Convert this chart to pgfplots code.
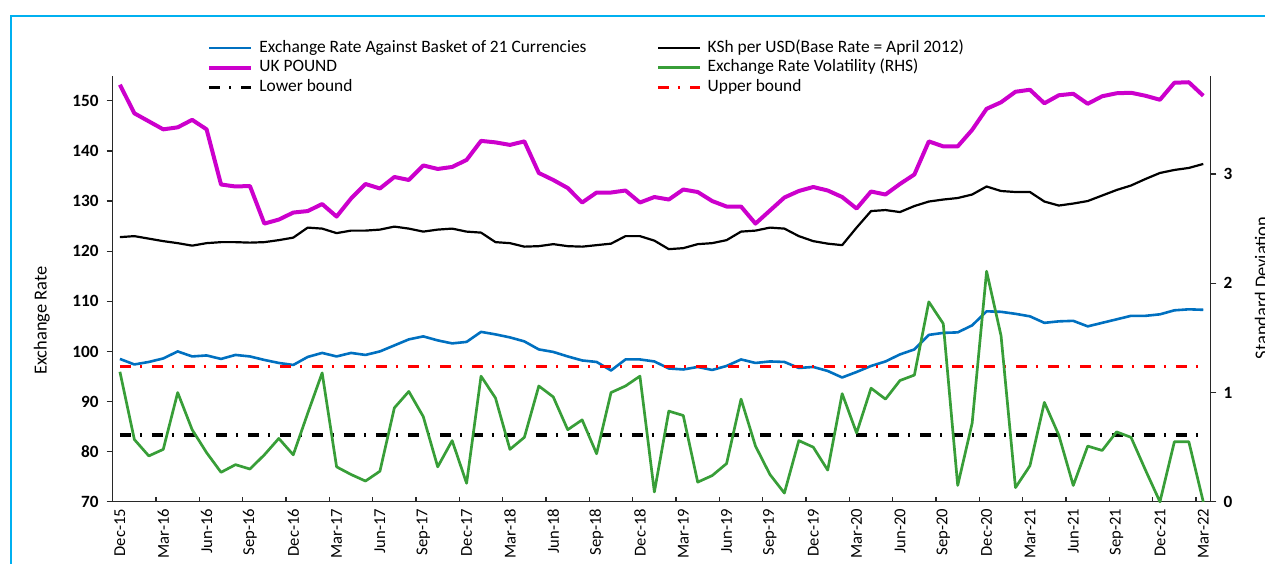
\documentclass[border=0pt]{standalone}
\usepackage{fontspec}
\setmainfont{Carlito}
\usepackage{pgfplots}
\pgfplotsset{compat=1.18}
\usepackage{pgfplotstable}
\definecolor{serblue}{RGB}{0,112,192}
\definecolor{sermag}{RGB}{204,0,204}
\definecolor{sergreen}{RGB}{56,158,56}
\definecolor{bordercyan}{RGB}{0,176,240}
\definecolor{axisgray}{RGB}{40,40,40}

\pgfplotstableread{
i blue black pound vol
0 98.5 122.8 153.2 1.19
1 97.4 123.0 147.5 0.57
2 97.9 122.5 145.9 0.42
3 98.6 122.0 144.3 0.48
4 100.0 121.6 144.7 1.00
5 99.0 121.1 146.2 0.66
6 99.2 121.6 144.3 0.45
7 98.5 121.8 133.3 0.27
8 99.3 121.8 132.9 0.34
9 99.0 121.7 133.0 0.30
10 98.3 121.8 125.5 0.43
11 97.7 122.2 126.3 0.58
12 97.3 122.7 127.7 0.43
13 98.9 124.7 128.0 0.81
14 99.7 124.5 129.4 1.18
15 99.0 123.6 126.9 0.32
16 99.7 124.1 130.5 0.25
17 99.3 124.1 133.4 0.19
18 100.0 124.3 132.5 0.28
19 101.2 124.9 134.8 0.86
20 102.4 124.5 134.2 1.01
21 103.0 123.9 137.1 0.78
22 102.2 124.3 136.4 0.32
23 101.6 124.5 136.8 0.56
24 101.9 123.9 138.2 0.17
25 103.9 123.7 142.0 1.15
26 103.4 121.8 141.7 0.95
27 102.8 121.6 141.2 0.48
28 102.0 120.9 141.9 0.59
29 100.4 121.0 135.6 1.06
30 99.9 121.4 134.2 0.96
31 99.0 121.0 132.6 0.66
32 98.2 120.9 129.7 0.75
33 97.9 121.2 131.7 0.44
34 96.2 121.5 131.7 1.00
35 98.4 123.0 132.1 1.06
36 98.4 123.0 129.7 1.15
37 98.0 122.1 130.8 0.09
38 96.6 120.4 130.3 0.83
39 96.4 120.6 132.3 0.79
40 96.9 121.4 131.8 0.18
41 96.3 121.6 130.0 0.24
42 97.1 122.2 128.9 0.35
43 98.4 123.9 128.9 0.94
44 97.7 124.1 125.5 0.51
45 98.0 124.7 128.1 0.25
46 97.9 124.5 130.7 0.08
47 96.7 123.0 132.0 0.56
48 96.9 122.0 132.8 0.50
49 96.1 121.5 132.1 0.29
50 94.8 121.2 130.8 0.99
51 95.9 124.7 128.5 0.63
52 97.1 128.0 131.9 1.04
53 98.0 128.2 131.3 0.94
54 99.4 127.8 133.4 1.11
55 100.4 129.0 135.3 1.16
56 103.3 129.9 141.9 1.83
57 103.7 130.3 140.9 1.63
58 103.8 130.6 140.9 0.15
59 105.2 131.3 144.2 0.72
60 108.0 132.9 148.4 2.11
61 107.9 132.0 149.7 1.52
62 107.5 131.8 151.8 0.13
63 107.0 131.8 152.2 0.33
64 105.7 129.9 149.5 0.91
65 106.0 129.1 151.1 0.61
66 106.1 129.5 151.4 0.15
67 105.0 130.0 149.4 0.51
68 105.7 131.1 150.9 0.47
69 106.4 132.2 151.5 0.64
70 107.1 133.1 151.6 0.59
71 107.1 134.4 151.0 0.29
72 107.4 135.6 150.2 0.00
73 108.2 136.2 153.6 0.55
74 108.4 136.6 153.7 0.55
75 108.3 137.4 151.0 0.00
}\data

\begin{document}
\begin{tikzpicture}
\useasboundingbox (0,0) rectangle (632.5pt,-281.5pt);
\clip (0,0) rectangle (632.5pt,-281.5pt);
\draw[bordercyan, line width=1.4pt] (5.5pt,-300pt) -- (5.5pt,-8pt) -- (700pt,-8pt);

\begin{axis}[
  at={(56.35pt,-250.9pt)}, anchor=south west,
  scale only axis, width=548.9pt, height=213.05pt,
  xmin=-0.5, xmax=75.5, ymin=70, ymax=155,
  axis x line*=bottom, axis y line*=left,
  axis line style={axisgray, line width=0.6pt},
  clip=false,
  xtick={0,3,...,75},
  xticklabels={Dec-15,Mar-16,Jun-16,Sep-16,Dec-16,Mar-17,Jun-17,Sep-17,Dec-17,Mar-18,Jun-18,Sep-18,Dec-18,Mar-19,Jun-19,Sep-19,Dec-19,Mar-20,Jun-20,Sep-20,Dec-20,Mar-21,Jun-21,Sep-21,Dec-21,Mar-22},
  minor xtick={-0.5,2.5,...,74.5},
  major x tick style={draw=none},
  minor x tick style={axisgray, line width=0.6pt},
  minor tick length=2.5pt,
  xtick align=inside,
  xticklabel style={rotate=90, anchor=east, font=\fontsize{8.3}{10}\selectfont},
  ytick={70,80,...,150},
  ytick align=outside,
  major tick length=3pt,
  ytick style={axisgray, line width=0.6pt},
  yticklabel style={font=\fontsize{8.6}{10}\selectfont\bfseries, xshift=-0.5pt},
  /pgf/number format/assume math mode=true,
  ylabel={Exchange Rate},
  ylabel style={at={(axis description cs:-0.0782,0.425)}, anchor=north, font=\fontsize{9.2}{11}\selectfont},
  legend columns=2,
  legend cell align=left,
  legend image code/.code={\draw[#1] (0pt,0pt) -- (21pt,0pt);},
  legend style={at={(0.0859,1.0885)}, anchor=north west, draw=none, fill=none,
    inner sep=0pt, font=\fontsize{8.7}{10}\selectfont,
    nodes={inner sep=0pt, text height=7pt, text depth=2.75pt},
    /tikz/every odd column/.append style={column sep=3pt},
    /tikz/every even column/.append style={column sep=35pt}},
  line join=round,
]
\addplot[serblue, line width=1.3pt] table[x=i,y=blue]{\data};
\addlegendentry{Exchange Rate Against Basket of 21 Currencies}
\addplot[black, line width=1.1pt] table[x=i,y=black]{\data};
\addlegendentry{KSh per USD(Base Rate = April 2012)}
\addplot[sermag, line width=2pt] table[x=i,y=pound]{\data};
\addlegendentry{UK POUND}
\addlegendimage{sergreen, line width=1.3pt}
\addlegendentry{Exchange Rate Volatility (RHS)}
\addlegendimage{black, line width=1.6pt, dash pattern=on 5.5pt off 4.5pt on 1pt off 5pt}
\addlegendentry{Lower bound}
\addlegendimage{red, line width=1.6pt, dash pattern=on 5.5pt off 4.5pt on 1pt off 5pt}
\addlegendentry{Upper bound}
\end{axis}

\begin{axis}[
  at={(56.35pt,-250.9pt)}, anchor=south west,
  scale only axis, width=548.9pt, height=213.05pt,
  xmin=-0.5, xmax=75.5, ymin=0, ymax=3.9,
  axis x line=none, axis y line*=right,
  axis line style={axisgray, line width=0.6pt},
  clip=false,
  ytick={0,1,2,3},
  ytick align=outside,
  major tick length=3pt,
  ytick style={axisgray, line width=0.6pt},
  yticklabel style={font=\fontsize{8.6}{10}\selectfont\bfseries},
  /pgf/number format/assume math mode=true,
  ylabel={Standard Deviation},
  ylabel style={at={(axis description cs:1.034,0.502)}, anchor=north, font=\fontsize{9.2}{11}\selectfont},
  line join=round,
]
\addplot[black, line width=1.6pt, dash pattern=on 5.5pt off 4.5pt on 1pt off 5pt] coordinates {(0,0.611) (75,0.611)};
\addplot[red, line width=1.6pt, dash pattern=on 5.5pt off 4.5pt on 1pt off 5pt] coordinates {(0,1.240) (75,1.240)};
\addplot[sergreen, line width=1.35pt] table[x=i,y=vol]{\data};
\end{axis}
\end{tikzpicture}
\end{document}
